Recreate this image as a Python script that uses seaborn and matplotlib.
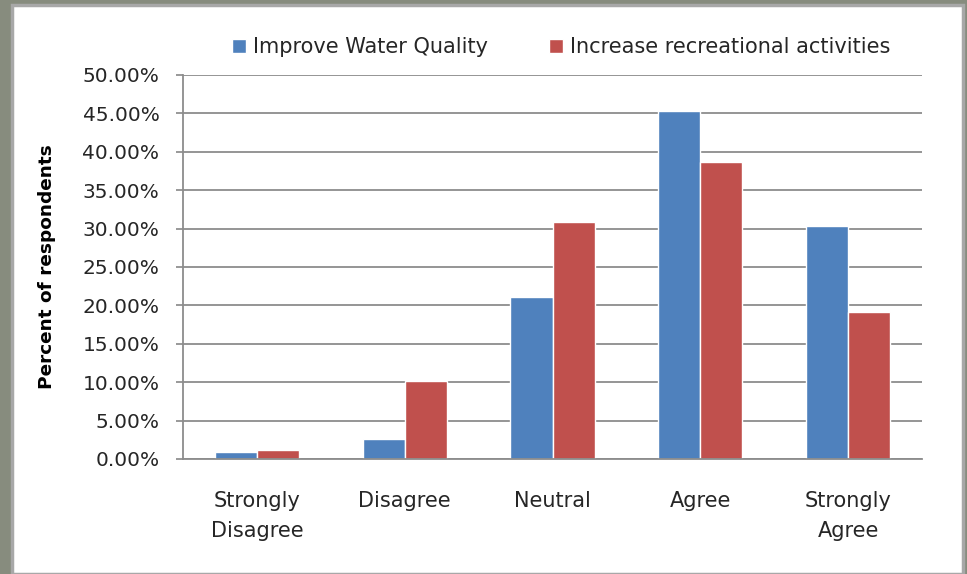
import matplotlib
matplotlib.use("Agg")
import matplotlib.pyplot as plt
from matplotlib.patches import Rectangle
from matplotlib.ticker import FuncFormatter
import seaborn as sns
import pandas as pd

categories = ["Strongly\nDisagree", "Disagree", "Neutral", "Agree", "Strongly\nAgree"]
series_names = ["Improve Water Quality", "Increase recreational activities"]
water_quality = [0.91, 2.66, 21.05, 45.3, 30.4]
recreation = [1.13, 10.2, 30.86, 38.7, 19.2]
colors = ["#4f81bd", "#c0504d"]
y_ticks = [0, 5, 10, 15, 20, 25, 30, 35, 40, 45, 50]

rows = []
for c, v in zip(categories, water_quality):
    rows.append({"category": c, "series": series_names[0], "value": v})
for c, v in zip(categories, recreation):
    rows.append({"category": c, "series": series_names[1], "value": v})
df = pd.DataFrame(rows)

sns.set_theme(style="white")
plt.rcParams["font.family"] = ["DejaVu Sans"]

fig = plt.figure(figsize=(9.67, 5.74), dpi=100)
fig.patch.set_facecolor("#878c7e")

# white panel with grey border
panel = Rectangle((12 / 967, 0), (963 - 12) / 967, (574 - 5) / 574,
                  transform=fig.transFigure, facecolor="white",
                  edgecolor="#a8a8a8", linewidth=2.5, zorder=-10)
fig.patches.append(panel)

ax = fig.add_axes([183 / 967, (574 - 459) / 574, (922 - 183) / 967, (459 - 75) / 574])
ax.set_zorder(5)
ax.set_facecolor("white")

sns.barplot(data=df, x="category", y="value", hue="series", order=categories,
            hue_order=series_names, palette=colors, width=0.57, ax=ax,
            saturation=1, legend=True, errorbar=None)

ax.set_ylim(0, 50)
ax.set_xlim(-0.5, 4.5)
ax.set_yticks(y_ticks)
ax.yaxis.set_major_formatter(FuncFormatter(lambda v, p: f"{v:.2f}%"))
ax.yaxis.grid(True, color="#8c8c8c", linewidth=1.3)
ax.set_axisbelow(True)
for s in ["top", "right"]:
    ax.spines[s].set_visible(False)
for s in ["left", "bottom"]:
    ax.spines[s].set_color("#8c8c8c")
    ax.spines[s].set_linewidth(1.3)
ax.tick_params(axis="y", which="major", left=True, length=5, color="#8c8c8c",
               labelsize=14.5, labelcolor="#262626", pad=12)
ax.tick_params(axis="x", bottom=False, labelsize=15, labelcolor="#262626", pad=17)
for lbl in ax.get_xticklabels():
    lbl.set_linespacing(1.65)
ax.set_xlabel("")
ax.set_ylabel("Percent of respondents", fontsize=13.3, fontweight="bold",
              color="black")
ax.yaxis.set_label_coords(-0.172, 0.5)

leg = ax.legend(loc="lower center", bbox_to_anchor=(0.512, 1.0), ncol=2,
                frameon=False, fontsize=15, handlelength=0.67, handleheight=0.67,
                handletextpad=0.35, columnspacing=2.9, borderaxespad=0.45)
for t in leg.get_texts():
    t.set_color("#262626")

fig.savefig("out.png", dpi=100, facecolor=fig.get_facecolor())
